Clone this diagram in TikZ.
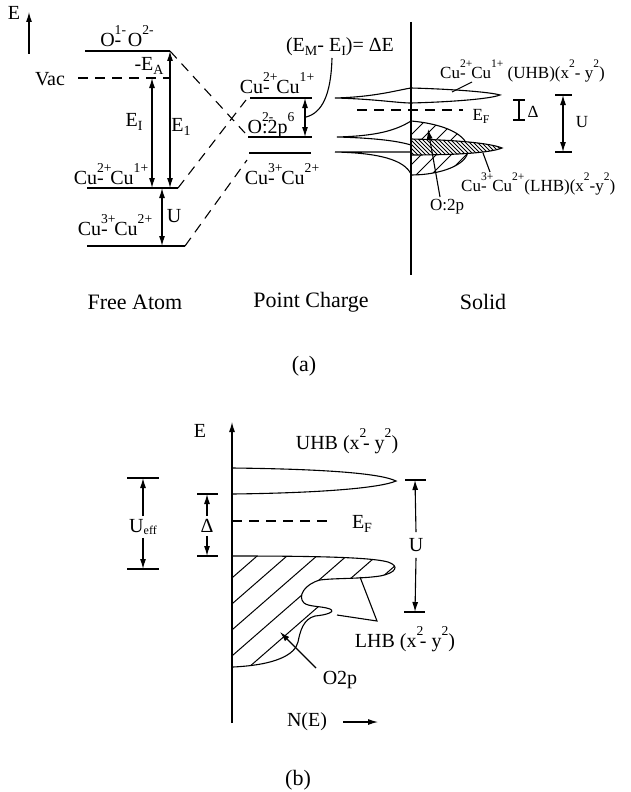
\documentclass[tikz,border=0pt]{standalone}
\usepackage{fontspec}
\usepackage{graphicx}
\setmainfont{Liberation Serif}
\usetikzlibrary{arrows.meta}
\newcommand\hsup[1]{\raisebox{0.6em}{\scalebox{0.68}{#1}}}
\newcommand\hsub[1]{\raisebox{-0.18em}{\scalebox{0.7}{#1}}}
\newcommand\ovsup[1]{\rlap{\hsup{#1}}}
\begin{document}
\begin{tikzpicture}[x=1pt,y=-1pt,
  ln/.style={line width=1.1pt},
  dsh/.style={line width=1.1pt,dash pattern=on 10pt off 7pt},
  arr/.style={ln,-{Latex[length=10pt,width=6pt]}},
  darr/.style={ln,{Latex[length=10pt,width=6pt]}-{Latex[length=10pt,width=6pt]}},
  lt/.style={inner sep=0pt,font=\fontsize{20}{22}\selectfont},
  ls/.style={inner sep=0pt,font=\fontsize{17}{19}\selectfont},
  lb/.style={inner sep=0pt,font=\fontsize{22}{24}\selectfont},
  hat/.style={line width=1pt},
]
\useasboundingbox (0,0) rectangle (631,792);

% ================= (a) Free atom =================
\coordinate (Ea0) at (29,54); \coordinate (Ea1) at (29,12);
\draw[arr] (Ea0) -- (Ea1);
\node[lt] (Elab) at (14,13) {E};

\coordinate (Oa) at (85,51);   \coordinate (Ob) at (170,51);
\coordinate (Va) at (78,78);   \coordinate (Vb) at (170,78);
\coordinate (C1a) at (87,188); \coordinate (C1b) at (178,188);
\coordinate (C3a) at (87,246); \coordinate (C3b) at (185,246);
\draw[ln] (Oa) -- (Ob);
\draw[dsh] (Va) -- (Vb);
\draw[ln] (C1a) -- (C1b);
\draw[ln] (C3a) -- (C3b);

\coordinate (EIt) at (152,78);  \coordinate (EIb) at (152,188);
\coordinate (E1t) at (170,51);  \coordinate (E1b) at (170,188);
\coordinate (Ut) at (162,188);  \coordinate (Ub) at (162,246);
\draw[darr] (EIt) -- (EIb);
\draw[darr] (E1t) -- (E1b);
\draw[darr] (Ut) -- (Ub);

\node[lt] (LO) at (127,36) {O\ovsup{1-}-\kern0.08em\ O\hsup{2-}};
\node[lt] (LVac) at (50,79) {Vac};
\node[lt] (LEA) at (149,66) {-E\hsub{A}};
\node[lt] (LEI) at (134,122) {E\hsub{I}};
\node[lt] (LE1) at (181,127) {E\hsub{1}};
\node[lt] (LC1) at (111,174) {Cu\ovsup{2+}-\kern0.08em\ Cu\hsup{1+}};
\node[lt] (LC3) at (115,225) {Cu\ovsup{3+}-\kern0.08em\ Cu\hsup{2+}};
\node[lt] (LU) at (174,216) {U};

% ================= (a) Point charge =================
\coordinate (P1a) at (250,98);  \coordinate (P1b) at (312,98);
\coordinate (P2a) at (248,137); \coordinate (P2b) at (312,137);
\coordinate (P3a) at (249,153); \coordinate (P3b) at (311,153);
\draw[ln] (P1a) -- (P1b);
\draw[ln] (P2a) -- (P2b);
\draw[ln] (P3a) -- (P3b);

\coordinate (D1) at (245,133);
\coordinate (D2) at (246,100);
\coordinate (D3) at (247,160);
\draw[dsh] (Ob) -- (D1);
\draw[dsh] (C1b) -- (D2);
\draw[dsh] (C3b) -- (D3);

\coordinate (PAt) at (305,98); \coordinate (PAb) at (305,137);
\draw[darr] (PAt) -- (PAb);

\node[lt] (LP1) at (277,83) {Cu\ovsup{2+}-\kern0.08em\ Cu\hsup{1+}};
\node[lt] (LP2) at (271,125) {O\ovsup{2-}:2p\hsup{6}};
\node[lt] (LP3) at (282,174) {Cu\ovsup{3+}-\kern0.08em\ Cu\hsup{2+}};
\node[lt] (LdE) at (340,47) {(E\hsub{M}- E\hsub{I})= ΔE};
\coordinate (dEs) at (332,58); \coordinate (dEe) at (306,117);
\draw[ln] (dEs) .. controls (331,95) and (322,113) .. (dEe);

% ================= (a) Solid =================
% O2p lobe with sparse hatching
\begin{scope}
\clip (411,121) .. controls (445,124) and (468,135) .. (468,150) .. controls (468,165) and (440,175) .. (411,175) -- cycle;
\foreach \c in {120,135,...,255} \draw[hat] (400,\c+11) -- (480,\c-69);
\end{scope}
\draw[ln] (411,121) .. controls (445,124) and (468,135) .. (468,150) .. controls (468,165) and (440,175) .. (411,175);

% LHB band with dense hatching
\fill[white] (411,139) .. controls (455,140) and (490,143) .. (502,148) .. controls (490,153) and (455,155) .. (411,155) -- cycle;
\begin{scope}
\clip (411,139) .. controls (455,140) and (490,143) .. (502,148) .. controls (490,153) and (455,155) .. (411,155) -- cycle;
\foreach \c in {20,24,...,160} \draw[line width=0.8pt] (400,\c-11) -- (510,\c+99);
\end{scope}
\draw[ln] (411,139) .. controls (455,140) and (490,143) .. (502,148) .. controls (490,153) and (455,155) .. (411,155);

% UHB band
\draw[ln] (335,98) .. controls (375,97) and (398,90) .. (411,88) .. controls (450,89) and (490,92) .. (500,95) .. controls (490,99) and (450,102) .. (411,103) .. controls (398,103) and (375,99) .. (335,98);

% left tails
\draw[ln] (411,121) .. controls (395,131) and (375,136) .. (337,137) .. controls (375,138) and (398,141) .. (411,145);
\draw[ln] (411,152) .. controls (395,152) and (370,152) .. (335,152) .. controls (380,153) and (404,160) .. (411,174);

% axis
\coordinate (Sa0) at (411,22); \coordinate (Sa1) at (411,275);
\draw[ln] (Sa0) -- (Sa1);

% Fermi level
\coordinate (SF0) at (357,110); \coordinate (SF1) at (463,110);
\draw[dsh] (SF0) -- (SF1);
\node[ls] (LSF) at (481,116) {E\hsub{F}};

% Delta bracket
\coordinate (Dt) at (519,100); \coordinate (Db) at (519,120);
\draw[ln] ([xshift=-6pt]Dt) -- ([xshift=6pt]Dt);
\draw[ln] ([xshift=-6pt]Db) -- ([xshift=6pt]Db);
\draw[ln] (Dt) -- (Db);
\node[ls] (LSD) at (533,112) {Δ};

% U arrow
\coordinate (SUt) at (563,95); \coordinate (SUb) at (563,152);
\draw[ln] ([xshift=-8pt]SUt) -- ([xshift=9pt]SUt);
\draw[ln] ([xshift=-8pt]SUb) -- ([xshift=9pt]SUb);
\draw[darr] (SUt) -- (SUb);
\node[ls] (LSU) at (582,122) {U};

% labels and leaders
\node[ls,anchor=base west] (LUHB) at (440,78) {Cu\ovsup{2+}-\kern0.08em\ Cu\hsup{1+} (UHB)(x\hsup{2}- y\hsup{2})};
\coordinate (Lu0) at (452,92); \coordinate (Lu1) at (472,82);
\draw[ln] (Lu0) -- (Lu1);
\node[ls,anchor=base west] (LLHB) at (461,191) {Cu\ovsup{3+}-\kern0.08em\ Cu\hsup{2+}(LHB)(x\hsup{2}-y\hsup{2})};
\coordinate (Ll0) at (483,153); \coordinate (Ll1) at (490,172);
\draw[ln] (Ll0) -- (Ll1);
\node[ls] (LO2p) at (447,207) {O:2p};
\coordinate (Oar0) at (440,197); \coordinate (Oar1) at (428,129);
\draw[arr] (Oar0) -- (Oar1);

% captions
\node[lb] (tFA) at (135,302) {Free Atom};
\node[lb] (tPC) at (311,302) {Point Charge};
\node[lb] (tS) at (483,302) {Solid};
\node[lb] (capa) at (304,366) {(a)};

% ================= (b) =================
\begin{scope}
\clip (232,556) .. controls (310,556) and (370,557) .. (388,562) .. controls (400,566) and (396,573) .. (380,576) .. controls (360,579) and (335,578) .. (320,580) .. controls (305,584) and (297,596) .. (304,603) .. controls (309,607) and (322,606) .. (330,609) .. controls (336,612) and (326,615) .. (315,616) .. controls (303,619) and (300,632) .. (298,642) .. controls (295,655) and (275,665) .. (233,667) -- cycle;
\foreach \c in {578,604,...,864} \draw[hat] (225,\c+6) -- (420,\c-164);
\end{scope}
\draw[ln] (232,556) .. controls (310,556) and (370,557) .. (388,562) .. controls (400,566) and (396,573) .. (380,576) .. controls (360,579) and (335,578) .. (320,580) .. controls (305,584) and (297,596) .. (304,603) .. controls (309,607) and (322,606) .. (330,609) .. controls (336,612) and (326,615) .. (315,616) .. controls (303,619) and (300,632) .. (298,642) .. controls (295,655) and (275,665) .. (233,667);

% UHB band (b)
\draw[ln] (232,468) .. controls (320,469) and (380,473) .. (396,481) .. controls (380,488) and (320,493) .. (232,494);

% axis (b)
\coordinate (Bb0) at (232,723); \coordinate (Bb1) at (232,422);
\draw[arr] (Bb0) -- (Bb1);
\node[lt] (bE) at (200,431) {E};

% Fermi (b)
\coordinate (BF0) at (232,521); \coordinate (BF1) at (333,521);
\draw[dsh] (BF0) -- (BF1);
\node[lt] (bEF) at (362,524) {E\hsub{F}};

% U_eff
\coordinate (Uet) at (143,478); \coordinate (Ueb) at (143,569);
\draw[ln] (127,478) -- (159,478);
\draw[ln] (127,569) -- (159,569);
\node[lt] (bUeff) at (143,527) {U\raisebox{-0.1em}{\scalebox{0.6}{eff}}};
\draw[arr] (bUeff.north) ++(0,-3) coordinate (Ue1) -- (Uet);
\draw[arr] (bUeff.south) ++(0,3) coordinate (Ue2) -- (Ueb);

% Delta (b)
\coordinate (Bdt) at (207,494); \coordinate (Bdb) at (207,556);
\draw[ln] (197,494) -- (218,494);
\draw[ln] (197,556) -- (218,556);
\node[lt] (bD) at (207,526) {Δ};
\draw[arr] (bD.north) ++(0,-3) coordinate (Bd1) -- (Bdt);
\draw[arr] (bD.south) ++(0,3) coordinate (Bd2) -- (Bdb);

% U (b)
\coordinate (BUt) at (415,480); \coordinate (BUb) at (415,612);
\draw[ln] (405,480) -- (426,480);
\draw[ln] (404,612) -- (425,612);
\node[lt] (bU) at (416,545) {U};
\draw[arr] (bU.north) ++(0,-6) coordinate (BU1) -- (BUt);
\draw[arr] (bU.south) ++(0,6) coordinate (BU2) -- (BUb);

% labels (b)
\node[lt] (bUHB) at (347,441) {UHB (x\ovsup{2}\,- y\hsup{2})};
\node[lt] (bLHB) at (405,639) {LHB (x\ovsup{2}\,- y\hsup{2})};
\coordinate (BL0) at (360,577); \coordinate (BL1) at (337,615); \coordinate (BLp) at (377,621);
\draw[ln] (BL0) -- (BLp) -- (BL1);
\node[lt] (bO2p) at (340,680) {O2p};
\coordinate (BO0) at (316,668); \coordinate (BO1) at (280,632);
\draw[arr] (BO0) -- (BO1);
\node[lt] (bNE) at (307,722) {N(E)};
\coordinate (BN0) at (343,722); \coordinate (BN1) at (378,722);
\draw[arr] (BN0) -- (BN1);
\node[lb] (capb) at (298,780) {(b)};
\end{tikzpicture}
\end{document}
